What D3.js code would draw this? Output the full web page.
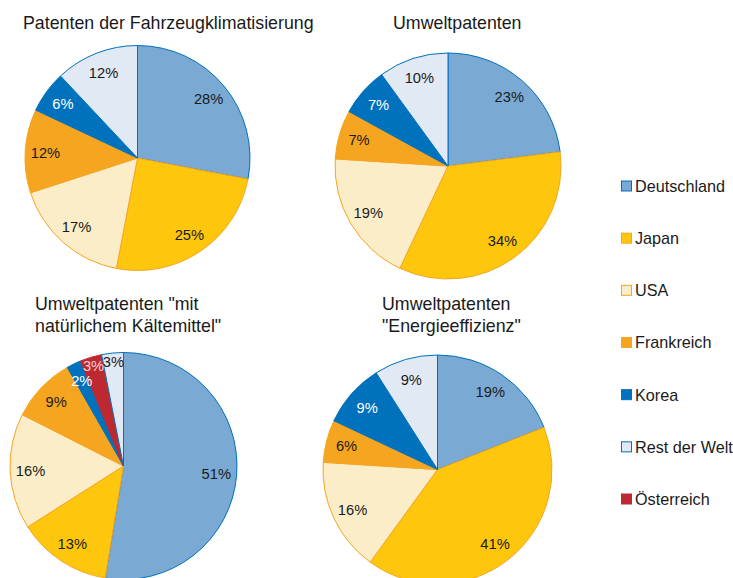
<!DOCTYPE html>
<html>
<head>
<meta charset="utf-8">
<script src="https://cdn.jsdelivr.net/npm/d3@7"></script>
<style>
  html, body { margin: 0; padding: 0; background: #fff; }
  svg { display: block; font-family: "Liberation Sans", Arial, sans-serif; }
</style>
</head>
<body>
<svg id="chart" width="733" height="578"></svg>
<script>
// ---- data ----
const categories = ["Deutschland", "Japan", "USA", "Frankreich", "Korea", "Rest der Welt", "Österreich"];
const sliceOrder = ["Deutschland", "Japan", "USA", "Frankreich", "Korea", "Österreich", "Rest der Welt"];
const valuesFahrzeug = [28, 25, 17, 12, 6, 0, 12];
const valuesUmwelt   = [23, 34, 19, 7, 7, 0, 10];
const valuesKaelte   = [51, 13, 16, 9, 2, 3, 3];
const valuesEnergie  = [19, 41, 16, 6, 9, 0, 9];
const titleFahrzeug = ["Patenten der Fahrzeugklimatisierung"];
const titleUmwelt   = ["Umweltpatenten"];
const titleKaelte   = ["Umweltpatenten \"mit", "natürlichem Kältemittel\""];
const titleEnergie  = ["Umweltpatenten", "\"Energieeffizienz\""];

// ---- styles ----
const fillColors = {
  "Deutschland": "#7aa9d4", "Japan": "#fec70e", "USA": "#faedc8", "Frankreich": "#f6a521",
  "Korea": "#0071bc", "Rest der Welt": "#e1e9f5", "Österreich": "#be2831"
};
const strokeColors = {
  "Deutschland": "#0071bc", "Japan": "#f6a521", "USA": "#f6a521", "Frankreich": "#f6a521",
  "Korea": "#0071bc", "Rest der Welt": "#0071bc", "Österreich": "#be2831"
};
const labelColors = { "Korea": "#ffffff", "Österreich": "#f7d2d2" };

const svg = d3.select("#chart");

const panels = [
  { values: valuesFahrzeug, title: titleFahrzeug, cx: 137.5, cy: 158, r: 112.5, tx: 23, ty: 29 },
  { values: valuesUmwelt,   title: titleUmwelt,   cx: 448,   cy: 166, r: 113,   tx: 393, ty: 29 },
  { values: valuesKaelte,   title: titleKaelte,   cx: 123.5, cy: 466, r: 113.5, tx: 35, ty: 310 },
  { values: valuesEnergie,  title: titleEnergie,  cx: 437.5, cy: 469.5, r: 114.5, tx: 382, ty: 310 }
];

const pie = d3.pie().sort(null).value(d => d.value);

panels.forEach(p => {
  const data = sliceOrder.map((name, i) => ({ name, value: p.values[i] })).filter(d => d.value > 0);
  const total = d3.sum(data, d => d.value);
  const arcs = pie(data);
  const arc = d3.arc().innerRadius(0).outerRadius(p.r);
  const g = svg.append("g").attr("transform", `translate(${p.cx},${p.cy})`);

  g.selectAll("path").data(arcs).join("path")
    .attr("d", arc)
    .attr("fill", d => fillColors[d.data.name])
    .attr("stroke", d => strokeColors[d.data.name])
    .attr("stroke-width", 1);

  g.selectAll("text").data(arcs).join("text")
    .attr("transform", d => {
      const share = d.data.value / total;
      const k = share < 0.025 ? 0.84 : share < 0.05 ? 0.92 : 0.82;
      const a = (d.startAngle + d.endAngle) / 2;
      return `translate(${Math.sin(a) * p.r * k},${-Math.cos(a) * p.r * k})`;
    })
    .attr("text-anchor", "middle")
    .attr("dy", "0.36em")
    .attr("font-size", "14.7px")
    .attr("fill", d => labelColors[d.data.name] || "#1a1a1a")
    .text(d => d.data.value + "%");

  const t = svg.append("text")
    .attr("x", p.tx).attr("y", p.ty)
    .attr("font-size", "17.8px")
    .attr("fill", "#1a1a1a");
  p.title.forEach((line, i) => {
    t.append("tspan").attr("x", p.tx).attr("dy", i === 0 ? 0 : 22).text(line);
  });
});

// ---- legend ----
const legendY = d3.scalePoint().domain(categories).range([186, 499]);
const lg = svg.append("g");
const items = lg.selectAll("g").data(categories).join("g")
  .attr("transform", d => `translate(621,${legendY(d)})`);
items.append("rect")
  .attr("x", 0.5).attr("y", -5).attr("width", 10).attr("height", 10)
  .attr("fill", d => fillColors[d])
  .attr("stroke", d => strokeColors[d])
  .attr("stroke-width", 1);
items.append("text")
  .attr("x", 14).attr("dy", "0.36em")
  .attr("font-size", "16.2px")
  .attr("fill", "#1a1a1a")
  .text(d => d);
</script>
</body>
</html>
